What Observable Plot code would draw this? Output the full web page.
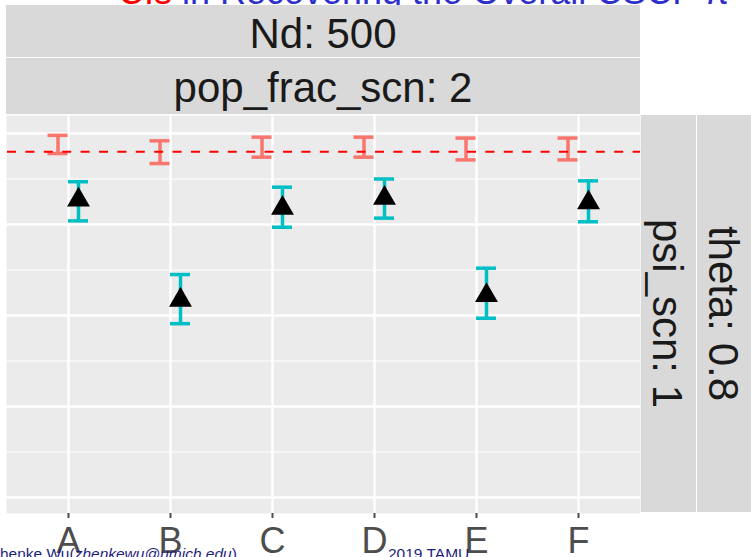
<!DOCTYPE html>
<html><head><meta charset="utf-8">
<script src="https://cdn.jsdelivr.net/npm/d3@7"></script>
<script src="https://cdn.jsdelivr.net/npm/@observablehq/plot@0.6"></script>
<style>
body{margin:0;background:#fff}
#chart{position:relative;width:751px;height:557px;overflow:hidden}
</style>
</head><body><div id="chart"></div>
<script>
// ---- data ----
const causes = ["A", "B", "C", "D", "E", "F"];
const truthValue = 0.38;
const redLower  = [0.378, 0.367, 0.374, 0.374, 0.371, 0.371];
const redUpper  = [0.398, 0.392, 0.396, 0.396, 0.395, 0.395];
const cyanLower = [0.304, 0.191, 0.297, 0.307, 0.197, 0.303];
const cyanUpper = [0.347, 0.245, 0.341, 0.350, 0.252, 0.348];
const cyanEstimate = [0.327, 0.217, 0.318, 0.329, 0.222, 0.324];
const majorTicks = [0, 0.1, 0.2, 0.3, 0.4];
const minorTicks = [0.05, 0.15, 0.25, 0.35];
const stripTopLabels = ["Nd: 500", "pop_frac_scn: 2"];
const stripRightLabels = ["psi_scn: 1", "theta: 0.8"];
const titleRed = "CIs";
const titleBlue = "in Recovering the Overall CSCF π";
const footerAuthor = "Zhenke Wu(";
const footerEmail = "zhenkewu@umich.edu";
const footerVenue = "2019 TAMU";

const red = causes.map((c, i) => ({cause: c, lo: redLower[i], hi: redUpper[i]}));
const cyan = causes.map((c, i) => ({cause: c, lo: cyanLower[i], hi: cyanUpper[i], est: cyanEstimate[i]}));

const W = 751, H = 557;
const mL = 6, mR = 111, mT = 115, mB = 44;
const font = "'Liberation Sans', Arial, Helvetica, sans-serif";
const redCol = "#F8766D", cyanCol = "#00BFC4";
const barW = 3.5;

const plot = Plot.plot({
  width: W, height: H,
  marginLeft: mL, marginRight: mR, marginTop: mT, marginBottom: mB,
  style: {fontFamily: font, background: "transparent"},
  x: {type: "point", domain: causes, padding: 0.6, label: null},
  y: {domain: [-0.0176, 0.4198], axis: null},
  marks: [
    Plot.frame({fill: "#EBEBEB", stroke: null}),
    Plot.ruleY(minorTicks, {stroke: "white", strokeWidth: 1.2}),
    Plot.ruleY(majorTicks, {stroke: "white", strokeWidth: 2.4}),
    Plot.ruleX(causes, {stroke: "white", strokeWidth: 2.4}),
    // red CIs
    Plot.ruleX(red, {x: "cause", y1: "lo", y2: "hi", stroke: redCol, strokeWidth: barW, dx: -10.5}),
    Plot.ruleY(red, {x1: "cause", x2: "cause", y: "lo", insetLeft: -10, insetRight: -10, stroke: redCol, strokeWidth: barW, dx: -10.5}),
    Plot.ruleY(red, {x1: "cause", x2: "cause", y: "hi", insetLeft: -10, insetRight: -10, stroke: redCol, strokeWidth: barW, dx: -10.5}),
    // cyan CIs
    Plot.ruleX(cyan, {x: "cause", y1: "lo", y2: "hi", stroke: cyanCol, strokeWidth: barW, dx: 10}),
    Plot.ruleY(cyan, {x1: "cause", x2: "cause", y: "lo", insetLeft: -10, insetRight: -10, stroke: cyanCol, strokeWidth: barW, dx: 10}),
    Plot.ruleY(cyan, {x1: "cause", x2: "cause", y: "hi", insetLeft: -10, insetRight: -10, stroke: cyanCol, strokeWidth: barW, dx: 10}),
    Plot.dot(cyan, {x: "cause", y: "est", symbol: "triangle", r: 8.5, fill: "black", stroke: null, dx: 10}),
    // truth
    Plot.ruleY([truthValue], {stroke: "#FF0000", strokeWidth: 2, strokeDasharray: "9,9.4", strokeDashoffset: -1}),
    Plot.axisX({tickSize: 5, tickPadding: 9, fontSize: 36, color: "#4D4D4D", strokeWidth: 2, label: null})
  ]
});
document.getElementById("chart").appendChild(plot);

const svg = d3.select(plot);
// slide title (partially visible), drawn behind everything
const title = svg.insert("text", ":first-child")
  .attr("x", 118).attr("y", 4).attr("text-anchor", "start")
  .attr("font-family", font).attr("font-size", 36);
title.append("tspan").attr("fill", "#FF0000").text(titleRed);
title.append("tspan").attr("fill", "#2E2ECC").text(" " + titleBlue);

// top strips
const px0 = mL, px1 = W - mR;
const topStrips = [{y0: 5, y1: 57, base: 47.5}, {y0: 58, y1: 114, base: 102}];
topStrips.forEach((s, i) => {
  svg.append("rect").attr("x", px0).attr("y", s.y0).attr("width", px1 - px0).attr("height", s.y1 - s.y0).attr("fill", "#D9D9D9");
  svg.append("text").attr("x", (px0 + px1) / 2).attr("y", s.base)
    .attr("text-anchor", "middle").attr("font-family", font).attr("font-size", 42).attr("fill", "#1A1A1A")
    .text(stripTopLabels[i]);
});
// right strips
const rightStrips = [{x0: 641, x1: 696}, {x0: 697, x1: 751}];
const py0 = mT, py1 = 512;
rightStrips.forEach((s, i) => {
  svg.append("rect").attr("x", s.x0).attr("y", py0).attr("width", s.x1 - s.x0).attr("height", py1 - py0).attr("fill", "#D9D9D9");
  svg.append("text")
    .attr("transform", `translate(${(s.x0 + s.x1) / 2},${(py0 + py1) / 2}) rotate(90)`)
    .attr("dy", "0.36em").attr("text-anchor", "middle")
    .attr("font-family", font).attr("font-size", 42).attr("fill", "#1A1A1A")
    .text(stripRightLabels[i]);
});
// footer overlay
const foot = svg.append("text").attr("x", -9.5).attr("y", 559).attr("text-anchor", "start")
  .attr("font-family", font).attr("font-size", 15.5).attr("fill", "#1F1F80");
foot.append("tspan").text(footerAuthor);
foot.append("tspan").attr("font-style", "italic").text(footerEmail);
foot.append("tspan").text(")");
svg.append("text").attr("x", 388).attr("y", 559).attr("text-anchor", "start")
  .attr("font-family", font).attr("font-size", 15.5).attr("fill", "#1F1F80").text(footerVenue);
</script>
</body></html>
